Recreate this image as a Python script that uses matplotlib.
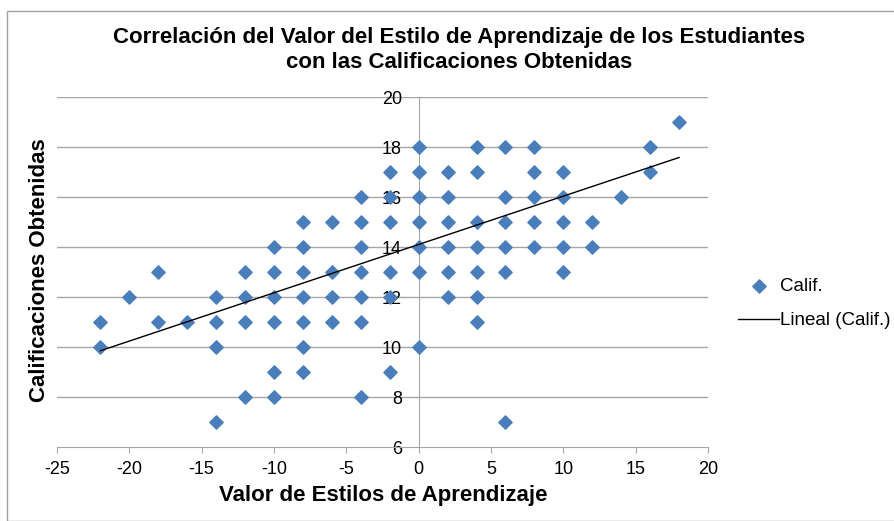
import numpy as np
import matplotlib
matplotlib.use("Agg")
from matplotlib import pyplot as plt
from matplotlib.patches import Rectangle

plt.rcParams['font.family'] = ['Liberation Sans', 'DejaVu Sans']
plt.rcParams['axes.unicode_minus'] = False

# Valor de estilo de aprendizaje -> calificaciones observadas en cada columna
estilo = [-22, -22, -20, -18, -18, -16,
          -14, -14, -14, -14,
          -12, -12, -12, -12,
          -10, -10, -10, -10, -10, -10,
          -8, -8, -8, -8, -8, -8, -8,
          -6, -6, -6, -6,
          -4, -4, -4, -4, -4, -4, -4,
          -2, -2, -2, -2, -2, -2,
          0, 0, 0, 0, 0, 0, 0,
          2, 2, 2, 2, 2, 2,
          4, 4, 4, 4, 4, 4, 4,
          6, 6, 6, 6, 6, 6,
          8, 8, 8, 8, 8,
          10, 10, 10, 10, 10,
          12, 12, 14, 16, 16, 18]
calif = [11, 10, 12, 13, 11, 11,
         12, 11, 10, 7,
         13, 12, 11, 8,
         14, 13, 12, 11, 9, 8,
         15, 14, 13, 12, 11, 10, 9,
         15, 13, 12, 11,
         16, 15, 14, 13, 12, 11, 8,
         17, 16, 15, 13, 12, 9,
         18, 17, 16, 15, 14, 13, 10,
         17, 16, 15, 14, 13, 12,
         18, 17, 15, 14, 13, 12, 11,
         18, 16, 15, 14, 13, 7,
         18, 17, 16, 15, 14,
         17, 16, 15, 14, 13,
         15, 14, 16, 18, 17, 19]

# linea de tendencia (los puntos repetidos se solapan)
tend_x = [-22, 18]
tend_y = [9.85, 17.58]

x = np.array(estilo)
y = np.array(calif)

fig = plt.figure(figsize=(8.94, 5.21), dpi=100)
ax = fig.add_axes([57/894, 1-447/521, (708-57)/894, (447-97)/521])

grid_c = '#a6a6a6'
ax.scatter(x, y, marker='D', s=46, color='#4a7ebb', zorder=3, label='Calif.')
ax.plot(tend_x, tend_y, color='black', lw=1, zorder=4, label='Lineal (Calif.)')

ax.set_xlim(-25, 20)
ax.set_ylim(6, 20)
ax.set_xticks(np.arange(-25, 21, 5))
ax.set_yticks(np.arange(6, 21, 2))
for yy in np.arange(8, 21, 2):
    ax.axhline(yy, color=grid_c, lw=1, zorder=1)

for s in ['top', 'right']:
    ax.spines[s].set_visible(False)
ax.spines['left'].set_position(('data', 0))
ax.spines['left'].set_color(grid_c)
ax.spines['bottom'].set_color(grid_c)
ax.tick_params(axis='x', colors=grid_c, labelcolor='black', labelsize=13,
               length=4.3, direction='out', pad=6)
ax.tick_params(axis='y', length=0, labelsize=13, pad=12)

fig.text(459/894, 1-38/521, 'Correlación del Valor del Estilo de Aprendizaje de los Estudiantes',
         ha='center', va='center', fontsize=16, fontweight='bold')
fig.text(459/894, 1-62/521, 'con las Calificaciones Obtenidas',
         ha='center', va='center', fontsize=16, fontweight='bold')
fig.text(383/894, 1-496/521, 'Valor de Estilos de Aprendizaje',
         ha='center', va='center', fontsize=16, fontweight='bold')
fig.text(40/894, 1-270/521, 'Calificaciones Obtenidas', rotation=90,
         ha='center', va='center', fontsize=16, fontweight='bold')

ax.legend(loc='center left', bbox_to_anchor=(1.02, 0.41), frameon=False, fontsize=13.5,
          handlelength=2.2, handletextpad=0.05, labelspacing=0.9)

fig.patches.append(Rectangle((7/894, 0), 1, 1-11/521, transform=fig.transFigure,
                             fill=False, edgecolor='#a0a0a0', lw=1))

fig.savefig('out.png', dpi=100)
